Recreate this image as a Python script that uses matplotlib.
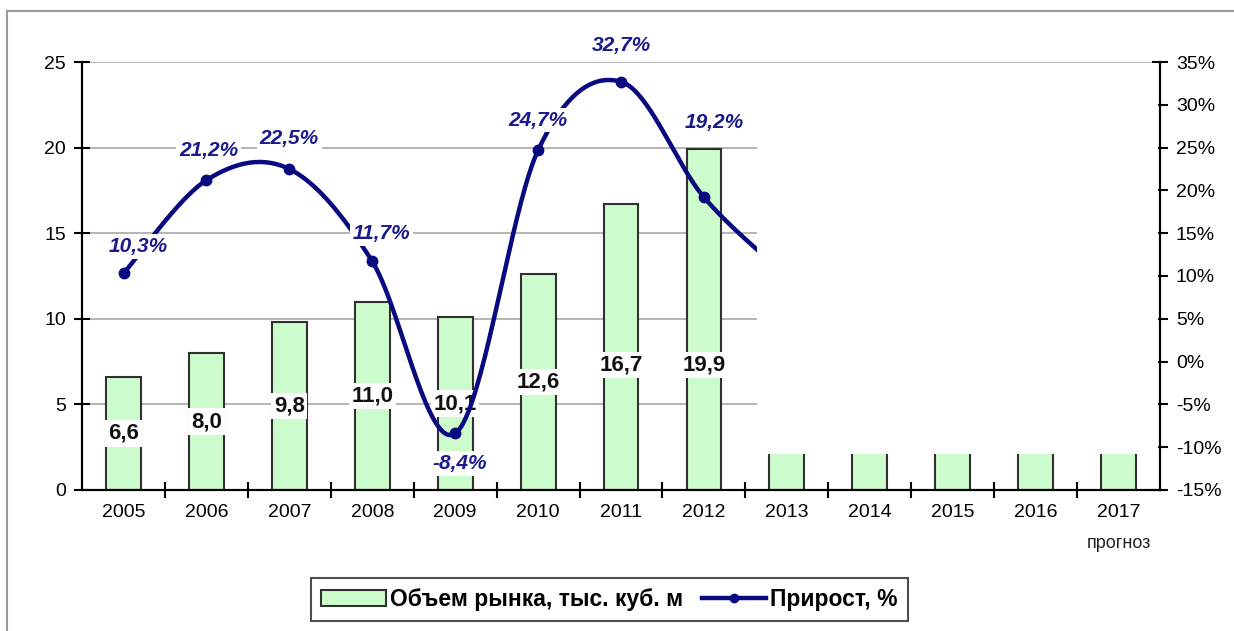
import numpy as np
import matplotlib.pyplot as plt
from matplotlib.patches import Rectangle
from matplotlib.lines import Line2D
from matplotlib.ticker import FixedLocator, FuncFormatter

plt.rcParams['font.family'] = ['Liberation Sans', 'DejaVu Sans']

# data
years = ['2005', '2006', '2007', '2008', '2009', '2010', '2011', '2012',
         '2013', '2014', '2015', '2016', '2017']
volume = [6.6, 8.0, 9.8, 11.0, 10.1, 12.6, 16.7, 19.9]
volume_forecast = [2.2, 2.2, 2.2, 2.2, 2.2]   # only the visible stubs
growth = [10.3, 21.2, 22.5, 11.7, -8.4, 24.7, 32.7, 19.2]
growth_2013 = 10.0   # hidden, only the start of the curve toward it is seen
growth_labels = ['10,3%', '21,2%', '22,5%', '11,7%', '-8,4%', '24,7%', '32,7%', '19,2%']
label_offsets = [(15, 27), (2, 30), (0, 31), (9, 28), (4, -30), (0, 30), (0, 36), (10, 75)]

navy = '#0a0a80'
green = '#ccfccc'


# Excel-like smoothed line (Catmull-Rom)
def smooth(xs, ys, n=40):
    xs = np.asarray(xs, float)
    ys = np.asarray(ys, float)
    px = np.concatenate([[xs[0]], xs, [xs[-1]]])
    py = np.concatenate([[ys[0]], ys, [ys[-1]]])
    outx, outy = [], []
    t = np.linspace(0, 1, n)
    h00 = 2 * t**3 - 3 * t**2 + 1
    h10 = t**3 - 2 * t**2 + t
    h01 = -2 * t**3 + 3 * t**2
    h11 = t**3 - t**2
    for i in range(1, len(px) - 2):
        mx0 = (px[i + 1] - px[i - 1]) / 2
        mx1 = (px[i + 2] - px[i]) / 2
        my0 = (py[i + 1] - py[i - 1]) / 2
        my1 = (py[i + 2] - py[i]) / 2
        outx.append(h00 * px[i] + h10 * mx0 + h01 * px[i + 1] + h11 * mx1)
        outy.append(h00 * py[i] + h10 * my0 + h01 * py[i + 1] + h11 * my1)
    return np.concatenate(outx), np.concatenate(outy)


fig = plt.figure(figsize=(12.34, 6.31), dpi=100)
ax = fig.add_axes([0.0665, 0.2235, 0.8735, 0.6782])
ax2 = ax.twinx()

x = np.arange(len(years))
n_hist = len(volume)

# gridlines
for g in [5, 10, 15, 20, 25]:
    ax.axhline(g, color='#b4b4b4', lw=1.4, zorder=0)

ax.bar(x[:n_hist], volume, width=0.42, color=green, edgecolor='#303030', lw=1.5, zorder=2)
ax.bar(x[n_hist:], volume_forecast, width=0.42, color=green, edgecolor='#303030', lw=1.5, zorder=2)

for xi, v in zip(x[:n_hist], volume):
    ax.text(xi, min(v / 2, 7.3), f'{v:.1f}'.replace('.', ','), ha='center', va='center',
            fontsize=16, fontweight='bold', color='#111111', zorder=6,
            bbox=dict(facecolor='white', edgecolor='none', pad=2))

ax.set_xlim(-0.5, len(years) - 0.5)
ax.set_ylim(0, 25)
ax2.set_ylim(-15, 35)

# growth line
sx, sy = smooth(list(x[:n_hist + 1]), growth + [growth_2013])
ax2.plot(sx, sy, color=navy, lw=3.2, zorder=3, solid_capstyle='butt')
ax2.plot(x[:n_hist], growth, 'o', color=navy, ms=7.5, zorder=3)
for xi, g, lab, off in zip(x[:n_hist], growth, growth_labels, label_offsets):
    ax2.annotate(lab, (xi, g), xytext=off, textcoords='offset pixels', ha='center', va='center',
                 fontsize=15, fontweight='bold', fontstyle='italic', color='#1a1a8c', zorder=6,
                 bbox=dict(facecolor='white', edgecolor='none', pad=2))

# white-out over the forecast part of the picture
ax2.add_patch(Rectangle((7.64, -15 + 2.12 * 2), 12.5 - 7.64 - 0.02, 34.8 - (-15 + 2.12 * 2),
                        facecolor='white', edgecolor='none', zorder=5))
ax2.patch.set_visible(False)

# spines and ticks
for a in (ax, ax2):
    a.spines['top'].set_visible(False)
    a.spines['left'].set_linewidth(1.5)
    a.spines['right'].set_linewidth(1.5)
    a.spines['bottom'].set_linewidth(1.5)

ax.set_yticks([0, 5, 10, 15, 20, 25])
ax.tick_params(axis='y', direction='inout', length=11, width=1.5, labelsize=14, pad=6)
ax.set_xticks(x)
ax.set_xticklabels(years)
ax.tick_params(axis='x', length=0, labelsize=14, pad=10)
ax.xaxis.set_minor_locator(FixedLocator(np.arange(0.5, len(years) - 1, 1.0)))
ax.tick_params(axis='x', which='minor', direction='inout', length=12, width=1.5)
ax.text(x[-1], -0.124, 'прогноз', transform=ax.get_xaxis_transform(), ha='center', va='center',
        fontsize=13, color='#222222')

ax2.set_yticks(np.arange(-15, 36, 5))
ax2.yaxis.set_major_formatter(FuncFormatter(lambda v, p: f'{v:.0f}%'))
ax2.tick_params(axis='y', direction='inout', length=11, width=1.5, labelsize=14, pad=6)

# legend
handles = [Rectangle((0, 0), 1, 1, facecolor=green, edgecolor='#303030', lw=1.5),
           Line2D([], [], color=navy, lw=3.2, marker='o', ms=6)]
leg = fig.legend(handles, ['Объем рынка, тыс. куб. м', 'Прирост, %'], loc='center',
                 bbox_to_anchor=(0.494, 0.05), ncol=2, frameon=True, fancybox=False,
                 prop={'size': 16.5, 'weight': 'bold'},
                 handlelength=2.8, handletextpad=0.2, columnspacing=0.8, borderpad=0.45)
leg.get_frame().set_edgecolor('#222222')
leg.get_frame().set_linewidth(1.5)

# outer frame
fig.patches.append(Rectangle((7 / 1234, -0.1), 1.2, 0.1 + (631 - 11) / 631, transform=fig.transFigure,
                             fill=False, edgecolor='#9a9a9a', lw=1.5))

fig.savefig('out.png', dpi=100)
